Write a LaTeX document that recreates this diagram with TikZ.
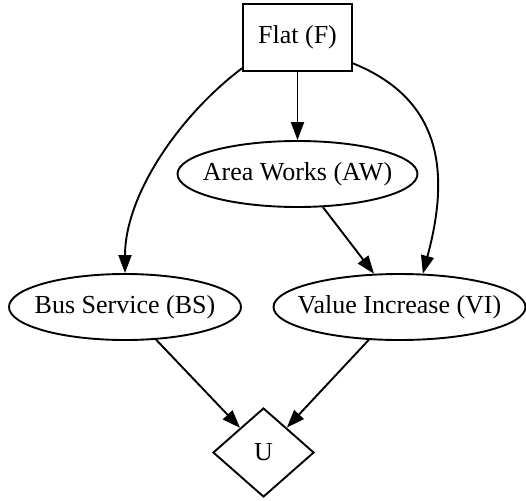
\documentclass[tikz,border=0pt]{standalone}
\usepackage{fontspec}
\setmainfont{Liberation Serif}
\usepackage{tikz}
\usetikzlibrary{arrows.meta}
\usetikzlibrary{shapes.geometric}
\newcommand{\nodetext}[1]{\makebox[0pt]{#1}}

\begin{document}
\begin{tikzpicture}[x=1pt,y=-1pt,line width=1.9pt,
    decision/.style={draw,rectangle,minimum width=109pt,minimum height=67pt,inner sep=0pt},
    chance/.style={draw,ellipse,minimum height=66pt,inner sep=0pt},
    utility/.style={draw,diamond,minimum width=101pt,minimum height=89pt,inner sep=0pt},
    every node/.style={font=\fontsize{26}{30}\selectfont}]
  \useasboundingbox (0,0) rectangle (526,500);
  \node[decision] (F) at (297.5,37.5) {Flat (F)};
  \node[chance,minimum width=240pt] (AW) at (297.5,174) {\nodetext{Area Works (AW)}};
  \node[chance,minimum width=232pt] (BS) at (125,307) {\nodetext{Bus Service (BS)}};
  \node[chance,minimum width=252pt] (VI) at (399.5,307) {\nodetext{Value Increase (VI)}};
  \node[utility] (U) at (263.5,452.5) {U};
  \path[-{Triangle[length=18pt,width=13pt]}]
    (F) edge (AW)
    (F.-151) edge [out=-143,in=90,looseness=.85] (BS.north)
    (F.-25) edge [out=-22,in=75,looseness=1.15] (VI.55)
    (AW) edge (VI)
    (BS) edge (U)
    (VI) edge (U);
\end{tikzpicture}
\end{document}
